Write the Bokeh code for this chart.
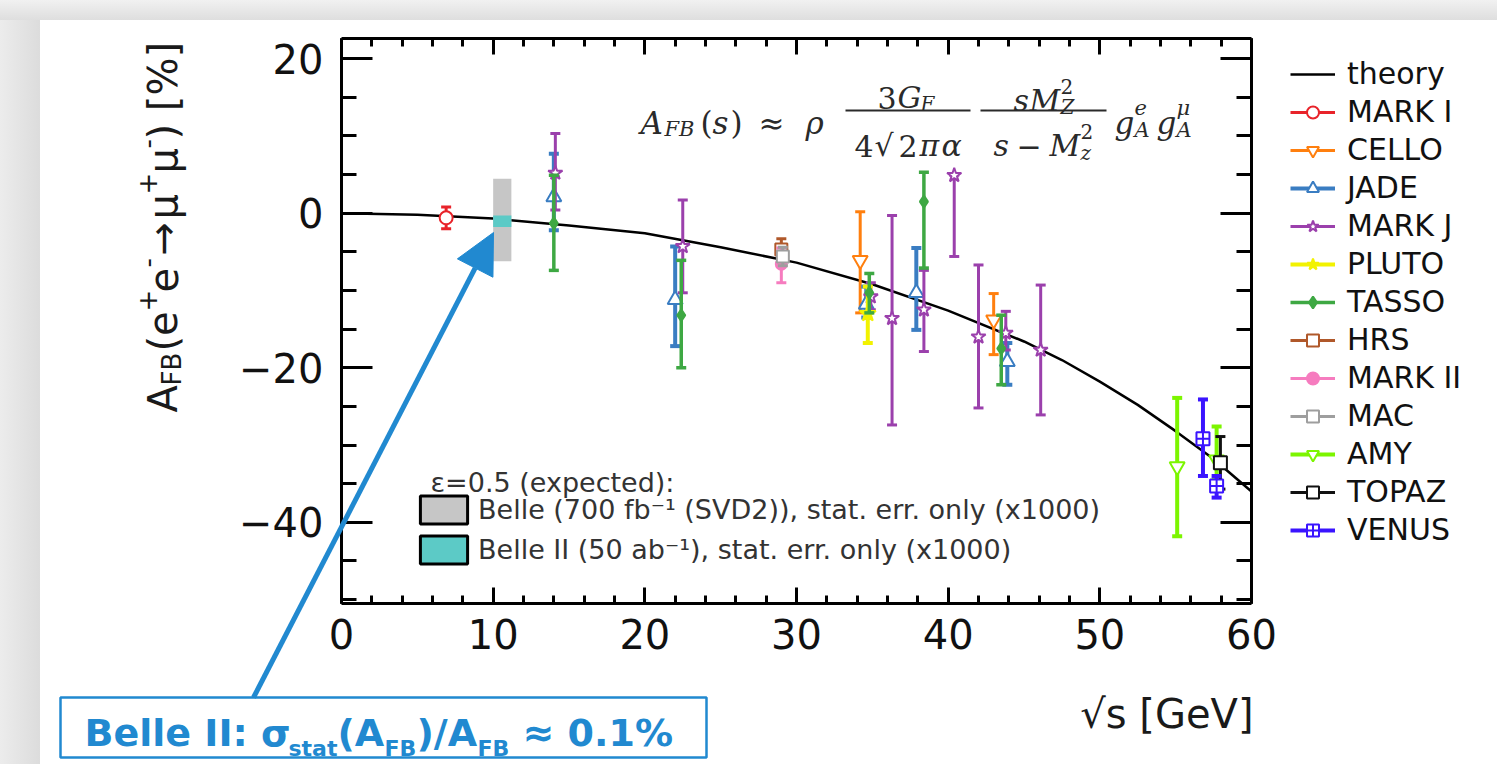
import math
from bokeh.plotting import figure
from bokeh.models import (Range1d, LinearAxis, FixedTicker, Label, Legend, LegendItem,
                          Arrow, NormalHead, PolyAnnotation, Div, ColumnDataSource)
from bokeh.core.properties import value
from bokeh.layouts import column, row
from bokeh.embed import file_html
from bokeh.resources import INLINE

# ---------------- data ----------------
sqrt_s_theory = [0, 5, 10, 15, 20, 25, 30, 35, 40, 45, 47.5, 50, 52.5, 55, 57.5, 60]
afb_theory = [0.0, -0.2, -0.7, -1.6, -2.6, -4.4, -6.4, -9.2, -12.6, -16.6, -19.0,
              -21.8, -24.8, -28.2, -31.8, -36.0]

# each experiment: sqrt(s) [GeV], A_FB [%], lower and upper end of the error bar
MARK_I = dict(x=[6.9], y=[-0.6], lo=[-2.0], hi=[0.8])
CELLO = dict(x=[34.2, 43.0], y=[-6.1, -13.8], lo=[-12.9, -18.3], hi=[0.2, -10.4])
JADE = dict(x=[14.0, 22.0, 34.6, 37.9, 43.9], y=[2.1, -11.2, -11.8, -10.3, -19.2],
            lo=[-2.2, -17.2, -13.5, -15.1, -22.2], hi=[7.7, -4.3, -9.5, -4.5, -16.8])
MARK_J = dict(x=[14.1, 22.5, 34.9, 36.3, 38.4, 40.4, 42.0, 43.8, 46.1],
              y=[5.2, -4.3, -10.8, -13.6, -12.5, 4.9, -16.0, -15.5, -17.7],
              lo=[0.4, -10.3, -12.5, -27.4, -17.9, -5.6, -25.2, -17.7, -26.1],
              hi=[10.3, 1.7, -9.0, -0.3, -7.4, 4.9, -6.7, -12.7, -9.3])
PLUTO = dict(x=[34.7], y=[-13.0], lo=[-16.8], hi=[-9.5])
TASSO = dict(x=[14.0, 22.4, 34.8, 38.4, 43.5], y=[-1.3, -13.2, -10.3, 1.5, -17.5],
             lo=[-7.4, -20.0, -12.9, -7.1, -22.2], hi=[4.9, -6.1, -7.8, 5.3, -13.2])
HRS = dict(x=[29.0], y=[-4.7], lo=[-6.5], hi=[-3.3])
MARK_II = dict(x=[29.0], y=[-6.6], lo=[-9.0], hi=[-4.5])
MAC = dict(x=[29.1], y=[-5.6], lo=[-6.8], hi=[-4.4])
AMY = dict(x=[55.1, 57.7], y=[-32.8, -31.9], lo=[-41.8, -34.5], hi=[-23.9, -27.6])
TOPAZ = dict(x=[57.95], y=[-32.3], lo=[-35.7], hi=[-28.9])
VENUS = dict(x=[56.8, 57.7], y=[-29.2, -35.3], lo=[-34.0, -36.8], hi=[-24.1, -34.0])

belle_x = [10.6]
belle_w = [1.2]
belle_y = [-0.88]
belle_h = [10.66]
belle2_y = [-1.05]
belle2_h = [1.5]

x_major_ticks = [0, 10, 20, 30, 40, 50, 60]
x_minor_ticks = list(range(0, 61, 2))
y_major_ticks = [-40, -20, 0, 20]
y_minor_ticks = list(range(-50, 21, 5))

# ---------------- geometry (page pixels) ----------------
LEFT_BAND, TOP_BAND = 40, 20
FIG_W, FIG_H = 1464, 744
OX, OY = LEFT_BAND, TOP_BAND                  # page position of the figure canvas
FX0, FX1, FY0, FY1 = 341, 1251, 38, 603        # plot box on the page
XMIN, XMAX, YMIN, YMAX = 0.0, 60.0, -50.5, 22.6


def X(px):
    return XMIN + (px - FX0) / (FX1 - FX0) * (XMAX - XMIN)


def Y(py):
    return YMAX - (py - FY0) / (FY1 - FY0) * (YMAX - YMIN)


# the drawing frame fills the whole canvas; the axes sit at fixed data positions
p = figure(width=FIG_W, height=FIG_H,
           x_range=Range1d(X(OX), X(OX + FIG_W)), y_range=Range1d(Y(OY + FIG_H), Y(OY)),
           output_backend="svg", toolbar_location=None,
           x_axis_location=None, y_axis_location=None,
           min_border_left=0, min_border_right=0, min_border_top=0, min_border_bottom=0,
           background_fill_color="white", border_fill_color="white", outline_line_color=None)
p.grid.visible = False


def make_axis(ticks, minor, loc, bounds, major_in, minor_in, labels, standoff):
    ax = LinearAxis(fixed_location=loc, bounds=bounds,
                    ticker=FixedTicker(ticks=ticks, minor_ticks=minor))
    ax.axis_line_width = 3
    ax.axis_line_color = "black"
    ax.major_tick_line_width = 3
    ax.minor_tick_line_width = 3
    ax.major_tick_line_color = "black"
    ax.minor_tick_line_color = "black"
    ax.major_tick_in = major_in
    ax.major_tick_out = 0
    ax.minor_tick_in = minor_in
    ax.minor_tick_out = 0
    ax.major_label_standoff = standoff
    ax.major_label_text_font = "DejaVu Sans"
    ax.major_label_text_font_size = "40px"
    ax.major_label_text_color = "#111111"
    if not labels:
        ax.major_label_overrides = {t: "" for t in ticks}
    return ax


p.add_layout(make_axis(x_major_ticks, x_minor_ticks, YMIN, (XMIN, XMAX), 16, 8, True, 15), "below")
p.add_layout(make_axis(y_major_ticks, y_minor_ticks, XMIN, (YMIN, YMAX), 31, 15, True, 18), "left")
p.add_layout(make_axis(x_major_ticks, x_minor_ticks, YMAX, (XMIN, XMAX), 16, 8, False, 0), "above")
p.add_layout(make_axis(y_major_ticks, y_minor_ticks, XMAX, (YMIN, YMAX), 31, 15, False, 0), "right")

# ---------------- glyphs ----------------
theory_r = p.line(sqrt_s_theory, afb_theory, line_color="black", line_width=2.5)
p.rect(x=belle_x, y=belle_y, width=belle_w, height=belle_h, fill_color="#c6c6c6", line_color=None)
p.rect(x=belle_x, y=belle2_y, width=belle_w, height=belle2_h, fill_color="#5ccac6", line_color=None)

exp_styles = [
    ("MARK I", MARK_I, "#e8232a", "circle", "white", 13, 3),
    ("CELLO", CELLO, "#ff7f0e", "inverted_triangle", "white", 15, 3),
    ("JADE", JADE, "#3a7dc2", "triangle", "white", 15, 4),
    ("MARK J", MARK_J, "#9b40ac", "star", "white", 15, 3),
    ("PLUTO", PLUTO, "#f2f200", "star", "#f2f200", 17, 4),
    ("TASSO", TASSO, "#3ea843", "diamond", "#3ea843", 12, 3.5),
    ("HRS", HRS, "#b0582a", "square", "white", 12, 3),
    ("MARK II", MARK_II, "#f67cbf", "circle", "#f67cbf", 11, 3),
    ("MAC", MAC, "#9e9e9e", "square", "white", 12, 3),
    ("AMY", AMY, "#7cf500", "inverted_triangle", "white", 15, 4),
    ("TOPAZ", TOPAZ, "#111111", "square", "white", 13, 3),
    ("VENUS", VENUS, "#3a14ff", "square_cross", "white", 13, 4),
]

items = [LegendItem(label=value("theory"), renderers=[theory_r])]
for name, d, color, marker, fill, size, lw in exp_styles:
    src = ColumnDataSource(d)
    seg = p.segment(x0="x", y0="lo", x1="x", y1="hi", source=src, line_color=color, line_width=lw)
    p.scatter(x="x", y="lo", source=src, marker="dash", size=10, line_color=color, line_width=lw)
    p.scatter(x="x", y="hi", source=src, marker="dash", size=10, line_color=color, line_width=lw)
    mk = p.scatter(x="x", y="y", source=src, marker=marker, size=size, line_color=color,
                   fill_color=fill, line_width=2)
    items.append(LegendItem(label=value(name), renderers=[seg, mk]))

legend = Legend(items=items, location=(1290 - OX, OY + FIG_H - 547), padding=0, margin=0, spacing=3,
                glyph_width=45, glyph_height=30, label_height=30, label_standoff=12,
                label_text_font="DejaVu Sans", label_text_font_size="30px", label_text_color="#111111",
                background_fill_alpha=0, border_line_color=None)
p.add_layout(legend)

# Belle expectation legend: outlined swatches (hidden copies of the Belle boxes)
sw1 = p.rect(x=belle_x, y=belle_y, width=belle_w, height=belle_h, fill_color="#c6c6c6",
             line_color="black", line_width=3, visible=False)
sw2 = p.rect(x=belle_x, y=belle2_y, width=belle_w, height=belle2_h, fill_color="#5ccac6",
             line_color="black", line_width=3, visible=False)
belle_leg = Legend(items=[LegendItem(label=value("Belle (700 fb\u207b\u00b9 (SVD2)), stat. err. only (x1000)"), renderers=[sw1]),
                          LegendItem(label=value("Belle II (50 ab\u207b\u00b9), stat. err. only (x1000)"), renderers=[sw2])],
                   location=(414 - OX, OY + FIG_H - 567), padding=0, margin=0, spacing=5,
                   glyph_width=59, glyph_height=35, label_standoff=5,
                   label_text_font="DejaVu Sans", label_text_font_size="27px", label_text_color="#333333",
                   background_fill_alpha=0, border_line_color=None, inactive_fill_alpha=0)
p.add_layout(belle_leg)


# ---------------- texts ----------------
def txt(s, px, py, size, style="normal", color="#1a1a1a", font="DejaVu Sans", align="left",
        baseline="alphabetic", angle=0.0):
    p.add_layout(Label(x=X(px), y=Y(py), text=s, text_font=font, text_font_size=f"{size}px",
                       text_font_style=style, text_color=color, text_align=align,
                       text_baseline=baseline, angle=angle))


txt("\u03b5=0.5 (expected):", 430, 482, 27, color="#333333")

# y axis title (rotated, composed of pieces)
R = math.pi / 2
for s, py, size, bx in [("A", 412, 40, 162), ("FB", 385, 26, 171), ("(e", 351, 40, 162),
                        ("+", 311, 26, 146), ("e", 292, 40, 162), ("-", 267, 26, 146),
                        ("\u2192", 255, 40, 162), ("\u03bc", 219, 40, 162), ("+", 194, 26, 146),
                        ("\u03bc", 173, 40, 162), ("-", 148, 26, 146), (") [%]", 139, 40, 162)]:
    txt(s, bx, py, size, angle=R)

# x axis title
txt("\u221as [GeV]", 1253, 713, 40, align="right")

# formula
SERIF = "DejaVu Serif"
FC = "#2a2a2a"
for s, px, py, size, st in [("A", 640, 122, 31, "italic"), ("FB", 664, 128, 21, "italic"),
                            ("(", 700, 122, 31, "normal"), ("s", 712, 122, 31, "italic"),
                            (")", 730, 122, 31, "normal"), ("\u2248", 758, 122, 31, "normal"),
                            ("\u03c1", 805, 122, 31, "italic"),
                            ("3", 877, 97, 30, "normal"), ("G", 897, 97, 30, "italic"),
                            ("F", 920, 103, 20, "italic"),
                            ("4", 854, 145, 30, "normal"), ("\u221a", 874, 145, 30, "normal"),
                            ("2", 898, 145, 30, "normal"), ("\u03c0", 919, 145, 30, "italic"),
                            ("\u03b1", 941, 145, 30, "italic"),
                            ("s", 1013, 100, 30, "italic"), ("M", 1029, 100, 30, "italic"),
                            ("Z", 1060, 106, 20, "italic"), ("2", 1060, 86, 20, "normal"),
                            ("s", 993, 145, 30, "italic"), ("\u2212", 1016, 145, 30, "normal"),
                            ("M", 1049, 145, 30, "italic"), ("z", 1080, 152, 20, "italic"),
                            ("2", 1080, 131, 20, "normal"),
                            ("g", 1114, 122, 31, "italic"), ("A", 1134, 129, 21, "italic"),
                            ("e", 1134, 107, 21, "italic"), ("g", 1156, 122, 31, "italic"),
                            ("A", 1176, 129, 21, "italic"), ("\u03bc", 1176, 107, 21, "italic")]:
    txt(s, px, py, size, style=st, color=FC, font=SERIF)

for x0, x1, yy in [(845, 970, 110), (980, 1106, 110)]:
    p.add_layout(Arrow(start=None, end=None, x_start=X(x0), y_start=Y(yy), x_end=X(x1), y_end=Y(yy),
                       line_color=FC, line_width=2))

# Belle II call-out box and arrow
BLUE = "#2189d0"
p.add_layout(PolyAnnotation(xs=[X(60), X(706), X(706), X(60)], ys=[Y(697), Y(697), Y(757), Y(757)],
                            xs_units="data", ys_units="data", fill_color="white", fill_alpha=1,
                            line_color=BLUE, line_alpha=1, line_width=2.5))
p.add_layout(Arrow(end=NormalHead(size=40, fill_color=BLUE, line_color=BLUE, line_width=1),
                   x_start=X(253), y_start=Y(697), x_end=X(493), y_end=Y(232),
                   line_color=BLUE, line_width=5))
for s, px, py, size in [("Belle II: \u03c3", 84, 732, 38), ("stat", 288, 748, 22), ("(A", 337, 732, 38),
                        ("FB", 384, 748, 22), (")/A", 416, 732, 38), ("FB", 477, 748, 22),
                        ("\u2248 0.1%", 522, 732, 38)]:
    txt(s, px, py, size, style="bold", color=BLUE)

# ---------------- page ----------------
top_band = Div(text="", width=1497, height=TOP_BAND, margin=0,
               styles={"background": "linear-gradient(#f1f1f1, #dedede)"})
left_band = Div(text="", width=LEFT_BAND, height=FIG_H, margin=0,
                styles={"background": "linear-gradient(to right, #ececec, #dcdcdc)"})
layout = column(top_band, row(left_band, p, spacing=0), spacing=0)

open("out.html", "w").write(file_html(layout, INLINE))
